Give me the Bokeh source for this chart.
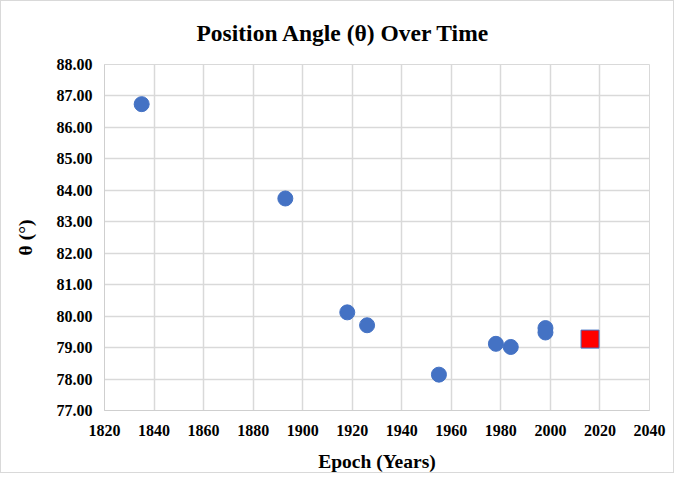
from bokeh.plotting import figure
from bokeh.models import Range1d, FixedTicker, NumeralTickFormatter
from bokeh.embed import file_html
from bokeh.resources import INLINE

# Data
epoch = [1835, 1893, 1918, 1926, 1955, 1978, 1984, 1998, 1998]
theta = [86.74, 83.74, 80.12, 79.71, 78.14, 79.12, 79.02, 79.62, 79.48]
new_epoch = [2016]
new_theta = [79.27]
x_ticks = list(range(1820, 2041, 20))
y_ticks = list(range(77, 89))

FONT = "Liberation Serif"

p = figure(width=674, height=473, output_backend="svg", toolbar_location=None,
           x_range=Range1d(1820, 2040), y_range=Range1d(77, 88),
           min_border_left=103, min_border_right=26, min_border_top=63, min_border_bottom=63)
p.styles = {"border": "1px solid #d9d9d9"}

p.title.text = "Position Angle (θ) Over Time"
p.title.text_font = FONT
p.title.text_font_size = "23.5px"
p.title.text_font_style = "bold"
p.title.align = "left"
p.title.vertical_align = "top"
p.title.offset = 92
p.title.standoff = 33
p.title.text_color = "black"

p.outline_line_color = "#d9d9d9"
p.background_fill_color = "white"
p.border_fill_color = "white"

for ax in (p.xaxis[0], p.yaxis[0]):
    ax.major_tick_out = 0
    ax.major_tick_in = 0
    ax.minor_tick_out = 0
    ax.minor_tick_in = 0
    ax.axis_line_color = "#cfcfcf"
    ax.major_label_text_font = FONT
    ax.major_label_text_font_style = "bold"
    ax.major_label_text_font_size = "16px"
    ax.major_label_text_color = "black"
    ax.axis_label_text_font = FONT
    ax.axis_label_text_font_style = "bold"
    ax.axis_label_text_font_size = "19.5px"
    ax.axis_label_text_color = "black"

p.xaxis.ticker = FixedTicker(ticks=x_ticks)
p.yaxis.ticker = FixedTicker(ticks=y_ticks)
p.yaxis.formatter = NumeralTickFormatter(format="0.00")
p.xaxis.axis_label = "Epoch (Years)"
p.yaxis.axis_label = "θ (°)"
p.xaxis.major_label_standoff = 14
p.yaxis.major_label_standoff = 12
p.xaxis.axis_label_standoff = 12
p.yaxis.axis_label_standoff = 18

p.xgrid.ticker = FixedTicker(ticks=x_ticks)
p.ygrid.ticker = FixedTicker(ticks=y_ticks)
p.grid.grid_line_color = "#d9d9d9"
p.grid.grid_line_width = 1.5

p.scatter(epoch, theta, size=15, marker="circle", fill_color="#4472C4", line_color="#4472C4")
p.scatter(new_epoch, new_theta, size=18, marker="square", fill_color="#FF0000", line_color="#4472C4", line_width=1)

open("out.html", "w").write(file_html(p, INLINE))
